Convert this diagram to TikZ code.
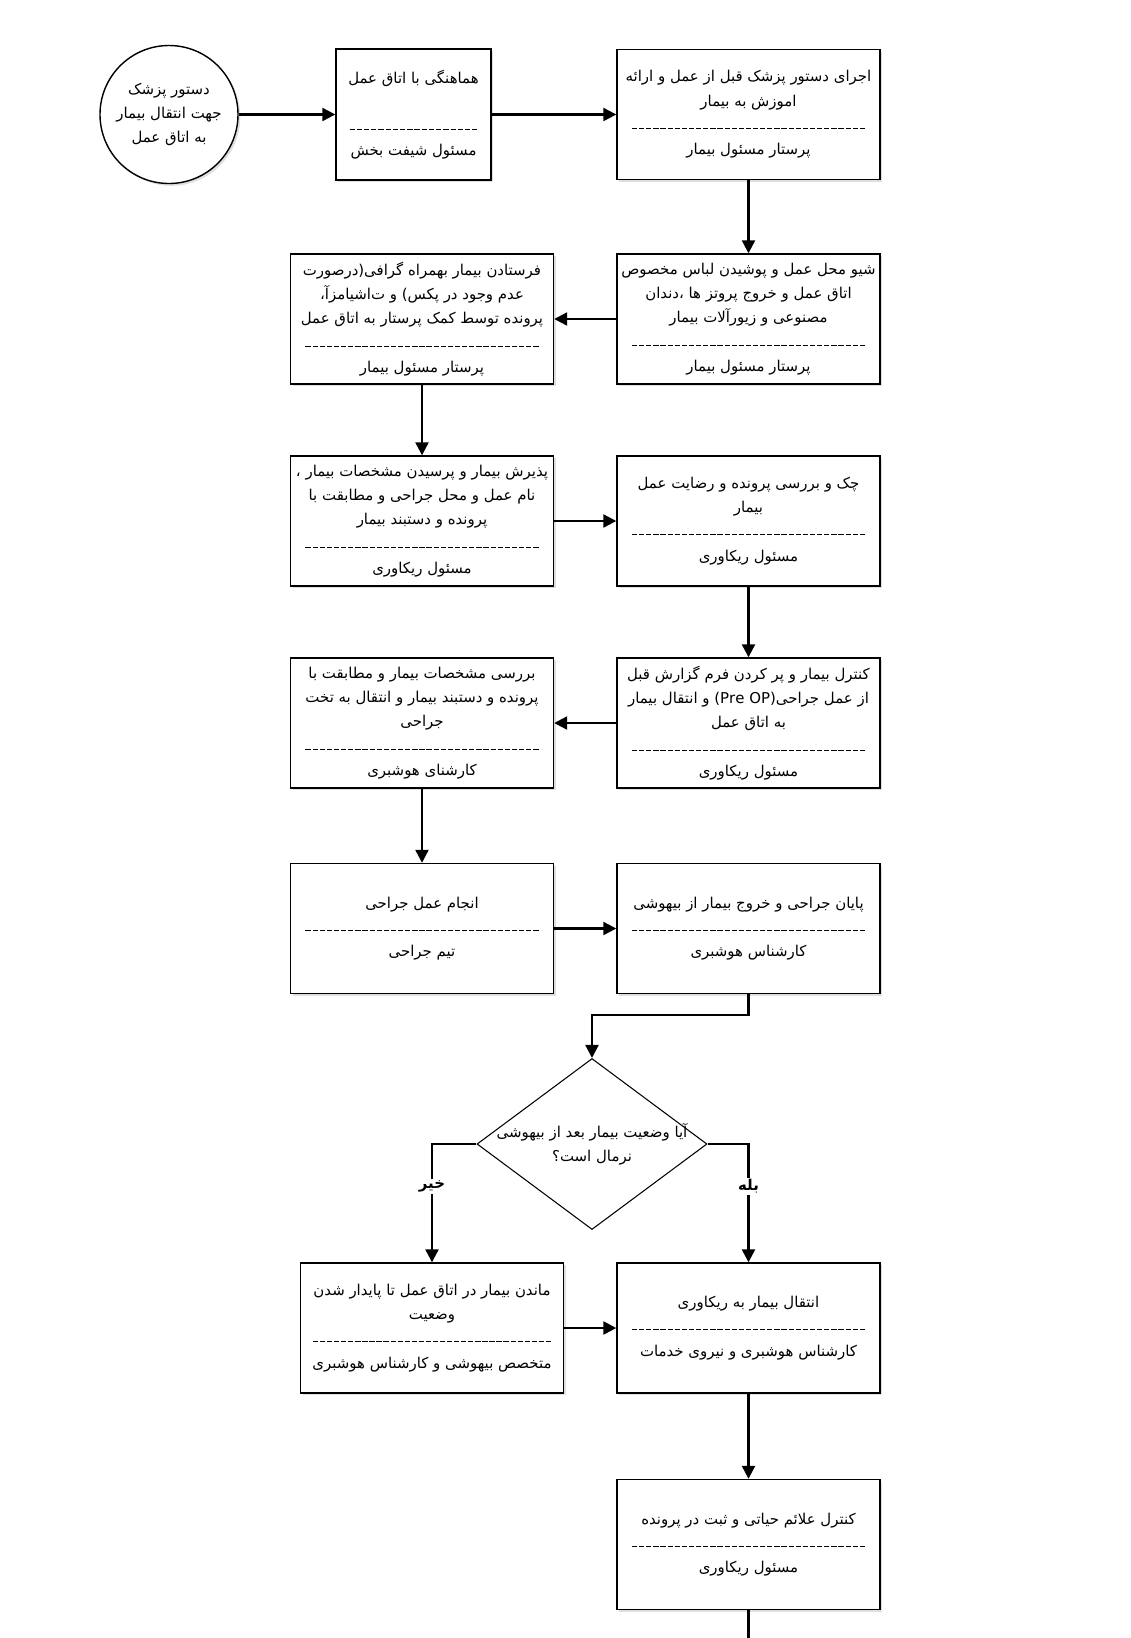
\documentclass[tikz,border=0pt]{standalone}
\usepackage{fontspec}
\usetikzlibrary{arrows.meta,shapes.geometric,shadows}
\newfontfamily\farsi[Script=Arabic]{DejaVu Sans}
\TeXXeTstate=1
\newcommand{\fa}[1]{\beginR #1\endR}
\newcommand{\dashrow}[1][47mm]{\hbox to #1{\xleaders\hbox{\kern0.5pt\rule[0.2ex]{3pt}{0.5pt}\kern0.5pt}\hfill}}

\begin{document}
\begin{tikzpicture}[x=0.2mm, y=-0.2mm,
    stepbox/.style={draw, line width=0.8pt, fill=white, align=center,
      minimum width=52.6mm, minimum height=26mm, inner sep=1pt,
      font=\farsi\fontsize{8.5}{13.8}\selectfont,
      drop shadow={shadow xshift=1.3pt, shadow yshift=-1.3pt, opacity=0.25, fill=gray}},
    flow/.style={line width=1.3pt, -{Triangle[length=2.6mm, width=2.6mm]}},
    answer/.style={fill=white, inner sep=1pt, font=\farsi\bfseries\fontsize{8.5}{11}\selectfont}]

  \useasboundingbox (0,0) rectangle (1131,1638);

  % ---- Row 1: order, coordination, pre-op order ----
  \node[stepbox, circle, minimum size=27.6mm, inner sep=0pt] (start) at (169,114.5)
    {\fa{دستور پزشک}\\ \fa{جهت انتقال بیمار}\\ \fa{به اتاق عمل}};
  \node[stepbox, minimum width=31mm, minimum height=26.2mm] (coord) at (413.5,114.5)
    {\fa{هماهنگی با اتاق عمل}\\ \\ \dashrow[26mm]\\ \fa{مسئول شیفت بخش}};
  \node[stepbox] (orders) at (748.5,114.5)
    {\fa{اجرای دستور پزشک قبل از عمل و ارائه}\\ \fa{اموزش به بیمار}\\ \dashrow\\
     \fa{پرستار مسئول بیمار}};
  \draw[flow] (start) -- (coord);
  \draw[flow] (coord) -- (orders);

  % ---- Row 2: preparation, sending to OR ----
  \node[stepbox] (prep) at (748.5,319)
    {\fa{شیو محل عمل و پوشیدن لباس مخصوص}\\ \fa{اتاق عمل و خروج پروتز ها ،دندان}\\
     \fa{مصنوعی و زیورآلات بیمار}\\ \dashrow\\ \fa{پرستار مسئول بیمار}};
  \node[stepbox] (send) at (422,319)
    {\fa{فرستادن بیمار بهمراه گرافی(درصورت}\\ \fa{عدم وجود در پکس) و ت‌اشیامزآ،}\\
     \fa{پرونده توسط کمک پرستار به اتاق عمل}\\ \dashrow\\ \fa{پرستار مسئول بیمار}};
  \draw[flow] (orders) -- (prep);
  \draw[flow] (prep) -- (send);

  % ---- Row 3: admission, file check ----
  \node[stepbox] (admit) at (422,521)
    {\fa{پذیرش بیمار و پرسیدن مشخصات بیمار ،}\\ \fa{نام عمل و محل جراحی و مطابقت با}\\
     \fa{پرونده و دستبند بیمار}\\ \dashrow\\ \fa{مسئول ریکاوری}};
  \node[stepbox] (check) at (748.5,521)
    {\fa{چک و بررسی پرونده و رضایت عمل}\\ \fa{بیمار}\\ \dashrow\\ \fa{مسئول ریکاوری}};
  \draw[flow] (send) -- (admit);
  \draw[flow] (admit) -- (check);

  % ---- Row 4: pre-op report, verification ----
  \node[stepbox] (ctrl) at (748.5,723)
    {\fa{کنترل بیمار و پر کردن فرم گزارش قبل}\\
     \fa{از عمل جراحی\beginL(Pre OP)\endL{} و انتقال بیمار}\\
     \fa{به اتاق عمل}\\ \dashrow\\ \fa{مسئول ریکاوری}};
  \node[stepbox] (verify) at (422,723)
    {\fa{بررسی مشخصات بیمار و مطابقت با}\\ \fa{پرونده و دستبند بیمار و انتقال به تخت}\\
     \fa{جراحی}\\ \dashrow\\ \fa{کارشنای هوشبری}};
  \draw[flow] (check) -- (ctrl);
  \draw[flow] (ctrl) -- (verify);

  % ---- Row 5: surgery and waking up ----
  \node[stepbox] (surg) at (422,928.5)
    {\fa{انجام عمل جراحی}\\ \dashrow\\ \fa{تیم جراحی}};
  \node[stepbox] (wake) at (748.5,928.5)
    {\fa{پایان جراحی و خروج بیمار از بیهوشی}\\ \dashrow\\ \fa{کارشناس هوشبری}};
  \draw[flow] (verify) -- (surg);
  \draw[flow] (surg) -- (wake);

  % ---- Decision ----
  \node[draw, diamond, line width=0.6pt, minimum width=46mm, minimum height=34.2mm,
    inner sep=0pt] (dec) at (592,1144) {};
  \node[align=center, font=\farsi\fontsize{8.5}{13.8}\selectfont] (decq) at (dec.center)
    {\fa{آیا وضعیت بیمار بعد از بیهوشی}\\ \fa{نرمال است؟}};
  \draw[flow] (wake.south) -- ++(0,21) -| (dec.north);

  % ---- Row 6: stay in OR / move to recovery ----
  \node[stepbox] (stay) at (432,1328)
    {\fa{ماندن بیمار در اتاق عمل تا پایدار شدن}\\ \fa{وضعیت}\\ \dashrow[48mm]\\
     \fa{متخصص بیهوشی و کارشناس هوشبری}};
  \node[stepbox] (recov) at (748.5,1328)
    {\fa{انتقال بیمار به ریکاوری}\\ \dashrow\\ \fa{کارشناس هوشبری و نیروی خدمات}};
  \draw[flow] (dec.west) -| (stay.north) node[answer, pos=0.68] (no) {\fa{خیر}};
  \draw[flow] (dec.east) -| (recov.north) node[answer, pos=0.68] (yes) {\fa{بله}};
  \draw[flow] (stay) -- (recov);

  % ---- Row 7: vital signs ----
  \node[stepbox] (vital) at (748.5,1544.5)
    {\fa{کنترل علائم حیاتی و ثبت در پرونده}\\ \dashrow\\ \fa{مسئول ریکاوری}};
  \coordinate (exit) at (748.5,1638);
  \draw[flow] (recov) -- (vital);
  \draw[line width=1.3pt] (vital) -- (exit);

\end{tikzpicture}
\end{document}
